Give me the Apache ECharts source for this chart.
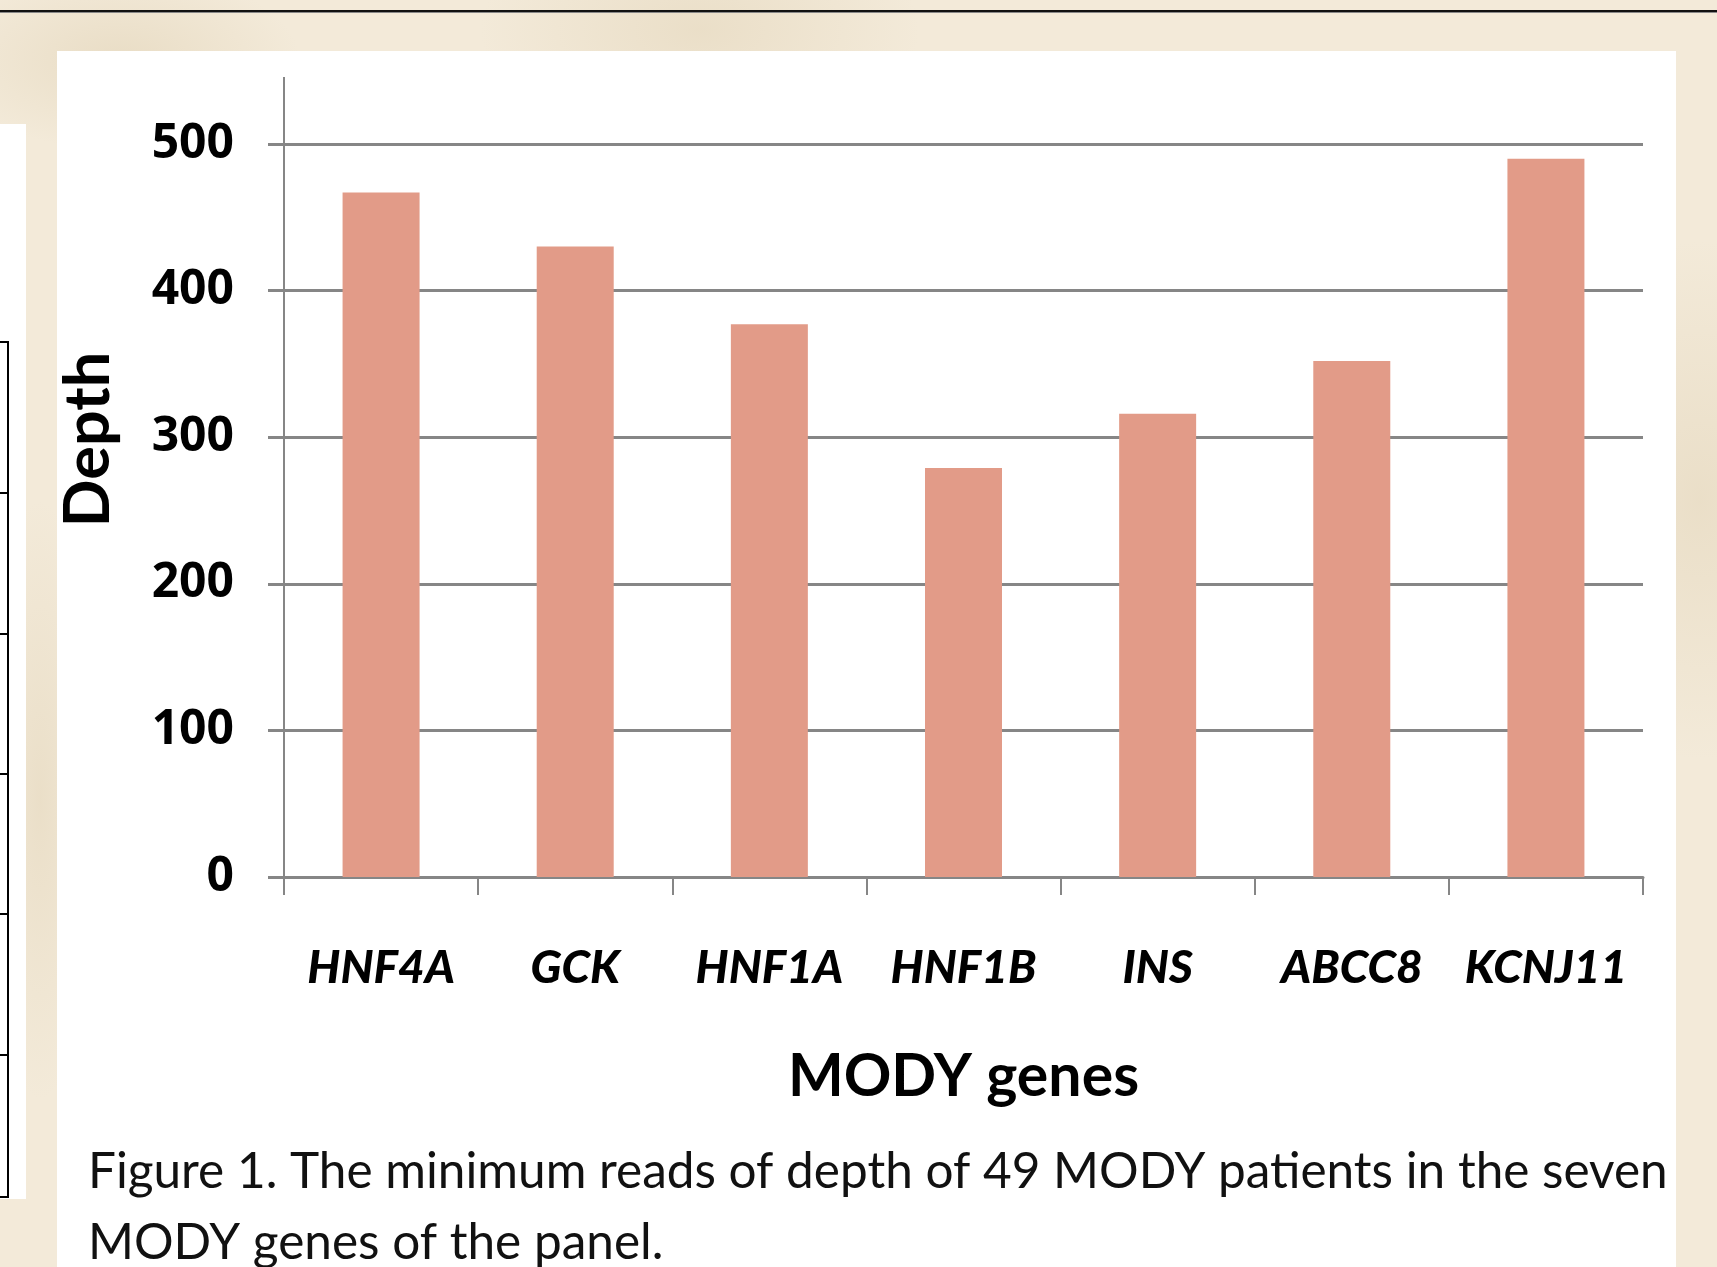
<!DOCTYPE html>
<html>
<head>
<meta charset="utf-8">
<title>MODY genes depth</title>
<script src="https://cdn.jsdelivr.net/npm/echarts@6/dist/echarts.min.js"></script>
<style>
  html, body { margin: 0; padding: 0; }
  body {
    width: 1717px; height: 1267px; overflow: hidden; position: relative;
    background-color: #f3ead9;
    background-image:
      radial-gradient(ellipse 180px 90px at 120px 60px, rgba(214,196,160,0.35), transparent),
      radial-gradient(ellipse 220px 120px at 700px 30px, rgba(214,196,160,0.3), transparent),
      radial-gradient(ellipse 160px 260px at 1700px 500px, rgba(214,196,160,0.3), transparent),
      radial-gradient(ellipse 60px 300px at 40px 800px, rgba(214,196,160,0.3), transparent);
  }
  .topline { position: absolute; left: 0; top: 10px; width: 1717px; height: 2px; background: #111; border-bottom: 1px solid #888; }
  .panel { position: absolute; left: 57px; top: 51px; width: 1619px; height: 1216px; background: #fff; }
  .side { position: absolute; left: 0; top: 124px; width: 26px; height: 1075px; background: #fff; }
  .side .v { position: absolute; left: 7px; top: 217px; width: 2px; height: 857px; background: #000; }
  .side .h { position: absolute; left: 0; width: 9px; height: 2px; background: #000; }
  #chart { position: absolute; left: 0; top: 0; width: 1717px; height: 1267px; }
</style>
</head>
<body>
<div class="topline"></div>
<div class="side">
  <div class="v"></div>
  <div class="h" style="top:217px"></div>
  <div class="h" style="top:368px"></div>
  <div class="h" style="top:509px"></div>
  <div class="h" style="top:649px"></div>
  <div class="h" style="top:789px"></div>
  <div class="h" style="top:930px"></div>
  <div class="h" style="top:1072px"></div>
</div>
<div class="panel"></div>
<div id="chart"></div>
<script>
const genes = ['HNF4A', 'GCK', 'HNF1A', 'HNF1B', 'INS', 'ABCC8', 'KCNJ11'];
const minDepth = [467, 430, 377, 279, 316, 352, 490];
const depthTicks = [0, 100, 200, 300, 400, 500];

const caption = 'Figure 1. The minimum reads of depth of 49 MODY patients in the seven\nMODY genes of the panel.';

const dom = document.getElementById('chart');
const myChart = echarts.init(dom, null, { renderer: 'canvas' });

const axisGray = '#868686';

const option = {
  backgroundColor: 'transparent',
  animation: false,
  title: {
    text: caption,
    left: 88,
    top: 1137,
    padding: 0,
    textStyle: {
      fontFamily: 'Lato',
      fontWeight: 'normal',
      fontSize: 49.5,
      lineHeight: 71,
      color: '#111'
    }
  },
  grid: {
    left: 284,
    right: 74,
    top: 144,
    bottom: 390
  },
  // the value axis line runs a bit above the 500 gridline
  graphic: [
    {
      type: 'line',
      shape: { x1: 284, y1: 77, x2: 284, y2: 144 },
      style: { stroke: axisGray, lineWidth: 2 }
    }
  ],
  xAxis: {
    type: 'category',
    data: genes,
    name: 'MODY genes',
    nameLocation: 'middle',
    nameGap: 170,
    nameTextStyle: {
      fontFamily: 'Lato',
      fontWeight: 'bold',
      fontSize: 59,
      color: '#000'
    },
    axisLine: { lineStyle: { color: axisGray, width: 3 } },
    axisTick: {
      show: true,
      interval: 0,
      alignWithLabel: false,
      length: 18,
      lineStyle: { color: axisGray, width: 2 }
    },
    axisLabel: {
      interval: 0,
      margin: 68,
      fontFamily: 'Lato',
      fontWeight: 900,
      fontStyle: 'italic',
      fontSize: 46,
      color: '#000'
    }
  },
  yAxis: {
    type: 'value',
    min: depthTicks[0],
    max: depthTicks[depthTicks.length - 1],
    interval: depthTicks[1] - depthTicks[0],
    name: 'Depth',
    nameLocation: 'middle',
    nameRotate: 90,
    nameGap: 164,
    nameTextStyle: {
      fontFamily: 'Lato',
      fontWeight: 'bold',
      fontSize: 63,
      color: '#000',
      padding: [0, 0, 0, 142]
    },
    axisLine: { show: true, lineStyle: { color: axisGray, width: 2 } },
    axisTick: { show: true, length: 16, lineStyle: { color: axisGray, width: 3 } },
    splitLine: { lineStyle: { color: axisGray, width: 3 } },
    axisLabel: {
      margin: 50,
      fontFamily: 'Open Sans',
      fontWeight: 'bold',
      fontSize: 48,
      color: '#000'
    }
  },
  series: [
    {
      name: 'Depth',
      type: 'bar',
      data: minDepth,
      barWidth: 77,
      itemStyle: { color: '#e29b88' }
    }
  ]
};

myChart.setOption(option);
</script>
</body>
</html>
